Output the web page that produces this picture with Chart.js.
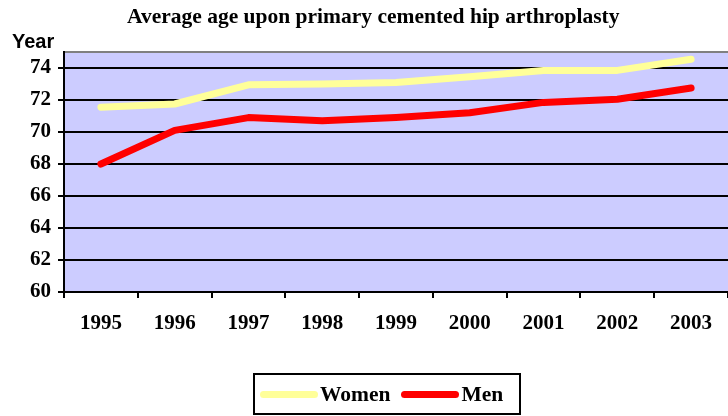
<!DOCTYPE html>
<html>
<head>
<meta charset="utf-8">
<script src="https://cdn.jsdelivr.net/npm/chart.js@4"></script>
<style>
  body { margin: 0; background: #fff; }
  #wrap { position: relative; width: 728px; height: 416px; }
  #title { position: absolute; left: 127px; top: 4px; white-space: nowrap; font: bold 21.5px 'Liberation Serif', serif; color: #000; }
  #ylab { position: absolute; left: 12px; top: 30px; font: bold 20px 'Liberation Sans', sans-serif; color: #000; }
  #legend { position: absolute; left: 253px; top: 373px; width: 268px; height: 42px; border: 2px solid #000; font: bold 21.5px 'Liberation Serif', serif; display: flex; align-items: center; padding-left: 5px; box-sizing: border-box; }
  #legend .sw { display: inline-block; width: 58px; height: 7px; border-radius: 4px; margin-right: 2px; }
</style>
</head>
<body>
<div id="wrap">
  <canvas id="chart" width="728" height="416"></canvas>
  <div id="title">Average age upon primary cemented hip arthroplasty</div>
  <div id="ylab">Year</div>
  <div id="legend"></div>
</div>
<script>
const years = ['1995', '1996', '1997', '1998', '1999', '2000', '2001', '2002', '2003'];
const women = [71.55, 71.75, 72.95, 73.0, 73.1, 73.45, 73.85, 73.85, 74.55];
const men = [68.0, 70.1, 70.9, 70.7, 70.9, 71.2, 71.85, 72.05, 72.75];
const yTicks = [60, 62, 64, 66, 68, 70, 72, 74];

const COLORS = { women: '#ffff99', men: '#ff0000', plot: '#ccccff', grid: '#000000', frame: '#808080' };

const plotBg = {
    id: 'plotBg',
    beforeDraw(chart) {
        const a = chart.chartArea, ctx = chart.ctx;
        ctx.save();
        ctx.fillStyle = COLORS.plot;
        ctx.fillRect(a.left, a.top, a.right - a.left, a.bottom - a.top);
        ctx.strokeStyle = COLORS.frame;
        ctx.lineWidth = 2;
        ctx.beginPath();
        ctx.moveTo(a.left, a.top);
        ctx.lineTo(a.right, a.top);
        ctx.stroke();
        ctx.restore();
    }
};

const tickFont = { family: "'Liberation Serif', serif", size: 21, weight: 'bold' };

new Chart(document.getElementById('chart'), {
    type: 'line',
    data: {
        labels: years,
        datasets: [
            { label: 'Women', data: women, borderColor: COLORS.women, backgroundColor: COLORS.women, borderWidth: 7, pointRadius: 0, tension: 0, borderCapStyle: 'round', borderJoinStyle: 'round' },
            { label: 'Men', data: men, borderColor: COLORS.men, backgroundColor: COLORS.men, borderWidth: 7, pointRadius: 0, tension: 0, borderCapStyle: 'round', borderJoinStyle: 'round' }
        ]
    },
    options: {
        responsive: false, animation: false,
        layout: { padding: { top: 52, left: 0, right: 0, bottom: 0 } },
        plugins: { legend: { display: false }, title: { display: false }, tooltip: { enabled: false } },
        scales: {
            x: {
                offset: true,
                grid: { offset: true, drawOnChartArea: false, drawTicks: true, tickLength: 6, color: '#000', lineWidth: 2 },
                border: { color: '#000', width: 2 },
                ticks: { color: '#000', font: tickFont, padding: 13, maxRotation: 0 },
                afterFit: s => { s.height = 124; }
            },
            y: {
                min: 60, max: 75,
                afterBuildTicks: s => { s.ticks = yTicks.map(v => ({ value: v })); },
                grid: { color: COLORS.grid, lineWidth: 2, tickLength: 6 },
                border: { color: '#000', width: 2 },
                ticks: { color: '#000', font: tickFont, padding: 7 },
                afterFit: s => { s.width = 64; }
            }
        }
    },
    plugins: [plotBg]
});

const legend = document.getElementById('legend');
[['Women', COLORS.women], ['Men', COLORS.men]].forEach(([name, c], i) => {
    const sw = document.createElement('span');
    sw.className = 'sw';
    sw.style.background = c;
    if (i > 0) sw.style.marginLeft = '11px';
    legend.appendChild(sw);
    legend.appendChild(document.createTextNode(name));
});
</script>
</body>
</html>
